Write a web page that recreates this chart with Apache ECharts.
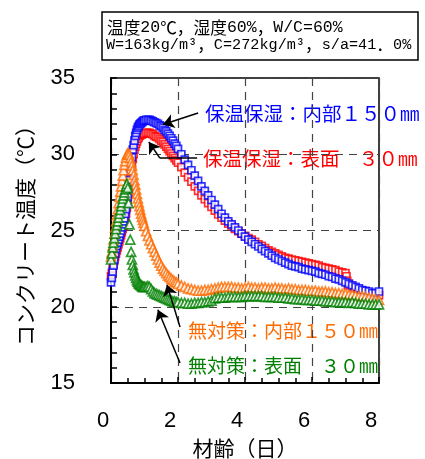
<!DOCTYPE html>
<html>
<head>
<meta charset="utf-8">
<script src="https://cdn.jsdelivr.net/npm/echarts@6/dist/echarts.min.js"></script>
<style>
  html, body { margin: 0; padding: 0; background: #fff; }
  #chart { width: 425px; height: 459px; }
</style>
</head>
<body>
<div id="chart"></div>
<script>
// 材齢 (days) at which temperatures were sampled
const days = [
  0, 0.025, 0.05, 0.075, 0.1, 0.125, 0.15, 0.175, 0.2, 0.225,
  0.25, 0.275, 0.3, 0.325, 0.35, 0.375, 0.4, 0.425, 0.45, 0.475,
  0.5, 0.525, 0.55, 0.575, 0.6, 0.625, 0.65, 0.675, 0.7, 0.725,
  0.75, 0.775, 0.8, 0.825, 0.85, 0.875, 0.9, 0.925, 0.95, 0.975, 1.0,
  1.05, 1.1, 1.15, 1.2, 1.25, 1.3, 1.35, 1.4, 1.45, 1.5,
  1.55, 1.6, 1.65, 1.7, 1.75, 1.8, 1.85, 1.9, 1.95, 2.0,
  2.1, 2.2, 2.3, 2.4, 2.5, 2.6, 2.7, 2.8, 2.9, 3.0,
  3.1, 3.2, 3.3, 3.4, 3.5, 3.6, 3.7, 3.8, 3.9, 4.0,
  4.1, 4.2, 4.3, 4.4, 4.5, 4.6, 4.7, 4.8, 4.9, 5.0,
  5.1, 5.2, 5.3, 5.4, 5.5, 5.6, 5.7, 5.8, 5.9, 6.0,
  6.1, 6.2, 6.3, 6.4, 6.5, 6.6, 6.7, 6.8, 6.9, 7.0,
  7.1, 7.2, 7.3, 7.4, 7.5, 7.6, 7.7, 7.8, 7.9, 8.0
];

// 保温保湿：内部150mm (°C)
const curedInner = [
  21.6, 21.9, 22.3, 22.7, 23.1, 23.5, 23.8, 24.0, 24.2, 24.4,
  24.6, 24.8, 25.0, 25.2, 25.4, 25.6, 25.8, 26.1, 26.4, 26.8,
  27.2, 27.7, 28.3, 28.9, 29.4, 29.8, 30.3, 30.6, 30.9, 31.2,
  31.4, 31.6, 31.75, 31.85, 31.95, 32.0, 32.05, 32.1, 32.15, 32.2, 32.2,
  32.25, 32.25, 32.25, 32.2, 32.15, 32.1, 32.05, 32.0, 31.9, 31.85,
  31.75, 31.6, 31.5, 31.35, 31.2, 31.05, 30.9, 30.7, 30.55, 30.35,
  30.0, 29.65, 29.3, 28.95, 28.6, 28.25, 27.9, 27.6, 27.3, 27.0,
  26.7, 26.4, 26.1, 25.85, 25.6, 25.4, 25.2, 25.0, 24.8, 24.6,
  24.4, 24.25, 24.1, 23.95, 23.8, 23.65, 23.5, 23.35, 23.2, 23.1,
  23.0, 22.9, 22.8, 22.7, 22.65, 22.6, 22.5, 22.45, 22.4, 22.35,
  22.3, 22.2, 22.15, 22.1, 22.0, 21.95, 21.85, 21.8, 21.7, 21.6,
  21.5, 21.4, 21.3, 21.2, 21.1, 21.05, 21.0, 20.9, 20.9, 21.0
];

// 保温保湿：表面 30mm (°C)
const curedSurface = [
  22.0, 22.2, 22.5, 22.8, 23.0, 23.3, 23.5, 23.7, 23.9, 24.1,
  24.3, 24.5, 24.7, 24.9, 25.1, 25.3, 25.5, 25.8, 26.1, 26.5,
  26.9, 27.4, 27.9, 28.4, 28.9, 29.3, 29.7, 30.0, 30.3, 30.5,
  30.7, 30.85, 31.0, 31.1, 31.2, 31.25, 31.3, 31.3, 31.35, 31.35, 31.35,
  31.4, 31.4, 31.4, 31.35, 31.3, 31.2, 31.15, 31.1, 31.0, 30.9,
  30.8, 30.65, 30.5, 30.35, 30.2, 30.05, 29.9, 29.75, 29.6, 29.45,
  29.15, 28.8, 28.5, 28.2, 27.9, 27.6, 27.3, 27.05, 26.8, 26.55,
  26.3, 26.05, 25.85, 25.65, 25.45, 25.3, 25.1, 24.95, 24.8, 24.65,
  24.5, 24.4, 24.25, 24.1, 24.0, 23.85, 23.7, 23.6, 23.5, 23.4,
  23.3, 23.2, 23.15, 23.1, 23.05, 23.0, 22.95, 22.9, 22.85, 22.8,
  22.75, 22.7, 22.6, 22.55, 22.5, 22.45, 22.4, 22.3, 22.25, 22.2,
  21.5, 21.3, 21.2, 21.1, 21.05, 21.0, 20.9, 20.85, 20.8, 20.75
];
// readings logged while the surface sensor dropped around day 7
const curedSurfaceDropDays = [7.03, 7.05, 7.07];
const curedSurfaceDropVals = [22.0, 21.7, 21.4];

// 無対策：内部150mm (°C)
const bareInner = [
  23.3, 23.6, 24.0, 24.4, 24.8, 25.2, 25.6, 26.0, 26.4, 26.8,
  27.2, 27.55, 27.9, 28.25, 28.6, 28.95, 29.3, 29.55, 29.8, 29.95,
  30.05, 30.05, 29.95, 29.75, 29.5, 29.25, 28.95, 28.65, 28.3, 28.0,
  27.7, 27.4, 27.1, 26.85, 26.6, 26.35, 26.1, 25.9, 25.7, 25.5, 25.3,
  24.95, 24.65, 24.35, 24.1, 23.85, 23.6, 23.35, 23.1, 22.9, 22.7,
  22.5, 22.35, 22.2, 22.05, 21.95, 21.85, 21.75, 21.65, 21.6, 21.5,
  21.4, 21.3, 21.2, 21.15, 21.1, 21.05, 21.05, 21.1, 21.1, 21.15,
  21.2, 21.25, 21.3, 21.3, 21.3, 21.3, 21.25, 21.25, 21.2, 21.25,
  21.3, 21.25, 21.25, 21.2, 21.25, 21.25, 21.2, 21.2, 21.25, 21.2,
  21.2, 21.15, 21.2, 21.15, 21.15, 21.1, 21.1, 21.1, 21.05, 21.05,
  21.05, 21.0, 21.0, 21.0, 20.95, 20.95, 20.9, 20.9, 20.85, 20.85,
  20.8, 20.8, 20.75, 20.7, 20.7, 20.65, 20.6, 20.55, 20.5, 20.45
];

// 無対策：表面 30mm (°C)
const bareSurface = [
  23.1, 23.5, 23.9, 24.2, 24.5, 24.8, 25.1, 25.35, 25.6, 25.85,
  26.1, 26.35, 26.6, 26.85, 27.1, 27.3, 27.5, 27.7, 27.9, 28.05,
  27.8, 26.8, 25.4, 24.4, 23.6, 23.1, 22.75, 22.45, 22.25, 22.05,
  21.9, 21.75, 21.65, 21.55, 21.5, 21.45, 21.4, 21.35, 21.3, 21.3, 21.3,
  21.3, 21.35, 21.3, 21.15, 21.0, 20.9, 20.85, 20.8, 20.75, 20.7,
  20.65, 20.6, 20.55, 20.5, 20.45, 20.4, 20.35, 20.35, 20.3, 20.3,
  20.25, 20.25, 20.2, 20.2, 20.25, 20.25, 20.3, 20.3, 20.35, 20.4,
  20.55, 20.6, 20.6, 20.6, 20.65, 20.65, 20.65, 20.65, 20.65, 20.7,
  20.7, 20.7, 20.7, 20.7, 20.7, 20.65, 20.65, 20.65, 20.65, 20.6,
  20.6, 20.6, 20.55, 20.55, 20.5, 20.5, 20.5, 20.45, 20.45, 20.45,
  20.4, 20.4, 20.4, 20.35, 20.35, 20.35, 20.3, 20.3, 20.3, 20.3,
  20.25, 20.3, 20.25, 20.2, 20.2, 20.2, 20.15, 20.15, 20.15, 20.15
];

const seriesLabels = [
  '保温保湿：表面　３０㎜',
  '保温保湿：内部１５０㎜',
  '無対策：内部１５０㎜',
  '無対策：表面　３０㎜'
];
const conditionLines = [
  '{j|温度}{a|20}{j|℃，湿度}{a|60%}{j|，}{a|W/C=60%}',
  '{b|W=163kg/m³}{j|，}{b|C=272kg/m³}{j|，}{b|s/a=41}{j|．}{b|0%}'
];

const JP = "'Noto Sans CJK JP', sans-serif";
const NUM = "'Liberation Sans', Arial, sans-serif";
const MONO = "'Liberation Mono', monospace";

const BLUE = '#0000FF', RED = '#FF0000', ORANGE = '#FF6A00', GREEN = '#008000';

const pairs = (xs, vals) => xs.map((d, i) => [d, vals[i]]);

function markerSeries(name, data, symbol, size, color) {
  return {
    name, type: 'scatter', data,
    symbol, symbolSize: size,
    itemStyle: { color: '#fff', borderColor: color, borderWidth: 1.7 },
    animation: false, silent: true
  };
}

const series = [
  markerSeries(seriesLabels[0],
    pairs(days, curedSurface).concat(pairs(curedSurfaceDropDays, curedSurfaceDropVals)),
    'rect', 7, RED),
  markerSeries(seriesLabels[1], pairs(days, curedInner), 'rect', 7, BLUE),
  markerSeries(seriesLabels[2], pairs(days, bareInner), 'triangle', 9, ORANGE),
  markerSeries(seriesLabels[3], pairs(days, bareSurface), 'triangle', 9, GREEN)
];

// leader arrows from each caption to its curve, in data units
const leaderPlain = (a, b) => [{ coord: a, symbol: 'none' }, { coord: b, symbol: 'none' }];
const leaderArrow = (a, b) => [{ coord: a, symbol: 'none' }, { coord: b, symbol: 'arrow', symbolSize: 11 }];
series[3].markLine = {
  silent: true, animation: false,
  label: { show: false },
  lineStyle: { color: '#000', width: 1.5, type: 'solid' },
  data: [
    leaderArrow([2.60, 32.70], [1.55, 31.95]),
    leaderPlain([2.57, 29.75], [1.46, 29.75]),
    leaderArrow([1.46, 29.75], [1.13, 30.80]),
    leaderArrow([2.06, 18.67], [1.67, 21.45]),
    leaderArrow([2.06, 16.31], [1.40, 19.80])
  ]
};

const axisBase = {
  type: 'value',
  axisLine: { show: true, onZero: false, lineStyle: { color: '#000', width: 2 } },
  axisTick: { show: true, inside: true, length: 6, lineStyle: { color: '#000', width: 1.5 } },
  splitLine: { show: true, lineStyle: { color: '#444', width: 1.2, type: [8, 6] } },
  nameLocation: 'middle',
  nameTextStyle: { color: '#000', fontSize: 21, fontFamily: JP }
};

const boxRich = {
  j: { fontFamily: JP, fontSize: 16.7, fill: '#000' },
  a: { fontFamily: MONO, fontSize: 16.5, fill: '#000' },
  b: { fontFamily: MONO, fontSize: 15.2, fill: '#000' }
};

const chart = echarts.init(document.getElementById('chart'), null, { renderer: 'canvas' });
chart.setOption({
  animation: false,
  backgroundColor: '#fff',
  grid: {
    left: 111, right: 46, top: 78, bottom: 76,
    outerBoundsMode: 'none', containLabel: false,
    show: true, borderColor: '#000', borderWidth: 1.5
  },
  xAxis: Object.assign({}, axisBase, {
    min: 0, max: 8, interval: 2,
    minorTick: { show: true, splitNumber: 4, length: 5, lineStyle: { color: '#000', width: 1.5 } },
    axisLabel: { color: '#000', fontSize: 22, fontFamily: NUM, margin: 27, padding: [0, 16, 0, 0] },
    name: '材齢（日）', nameGap: 55
  }),
  yAxis: Object.assign({}, axisBase, {
    min: 15, max: 35, interval: 5,
    minorTick: { show: true, splitNumber: 5, length: 6, lineStyle: { color: '#000', width: 1.5 } },
    axisLabel: { color: '#000', fontSize: 22, fontFamily: NUM, margin: 36 },
    name: 'コンクリート温度（℃）', nameGap: 75, nameRotate: 90
  }),
  series,
  graphic: [
    { type: 'rect', shape: { x: 102, y: 12, width: 316, height: 48 },
      style: { fill: '#fff', stroke: '#000', lineWidth: 1.5 } },
    { type: 'text', x: 107, y: 28,
      style: { text: conditionLines[0], verticalAlign: 'middle', rich: boxRich } },
    { type: 'text', x: 106, y: 45,
      style: { text: conditionLines[1], verticalAlign: 'middle', rich: boxRich } },
    { type: 'text', x: 205, y: 114,
      style: { text: seriesLabels[1], fill: BLUE, fontFamily: JP, fontSize: 19.5, verticalAlign: 'middle' } },
    { type: 'text', x: 203, y: 159,
      style: { text: seriesLabels[0], fill: RED, fontFamily: JP, fontSize: 19.5, verticalAlign: 'middle' } },
    { type: 'text', x: 188, y: 331,
      style: { text: seriesLabels[2], fill: ORANGE, fontFamily: JP, fontSize: 19, verticalAlign: 'middle' } },
    { type: 'text', x: 188, y: 366,
      style: { text: seriesLabels[3], fill: GREEN, fontFamily: JP, fontSize: 19, verticalAlign: 'middle' } }
  ]
});
</script>
</body>
</html>
